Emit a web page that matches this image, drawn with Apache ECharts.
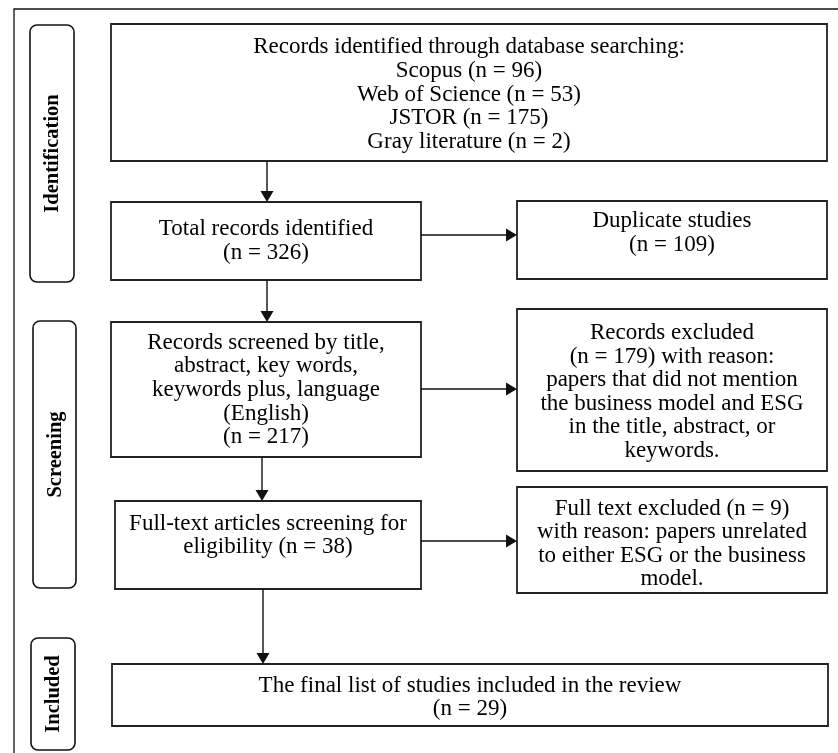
<!DOCTYPE html>
<html>
<head>
<meta charset="utf-8">
<script src="https://cdn.jsdelivr.net/npm/echarts@6/dist/echarts.min.js"></script>
<style>html,body{margin:0;padding:0;background:#fff}#c{width:838px;height:753px}</style>
</head>
<body>
<div id="c"></div>
<script>
// ---- data ----
const stageLabels = ['Identification', 'Screening', 'Included'];
const sourceNames = ['Scopus', 'Web of Science', 'JSTOR', 'Gray literature'];
const sourceCounts = [96, 53, 175, 2];
const totalIdentified = 326;
const duplicates = 109;
const screened = 217;
const excludedScreening = 179;
const fullText = 38;
const excludedFullText = 9;
const included = 29;

const boxTexts = [
  'Records identified through database searching:\n' +
    sourceNames.map((n, i) => n + ' (n = ' + sourceCounts[i] + ')').join('\n'),
  'Total records identified\n(n = ' + totalIdentified + ')',
  'Duplicate studies\n(n = ' + duplicates + ')',
  'Records screened by title,\nabstract, key words,\nkeywords plus, language\n(English)\n(n = ' + screened + ')',
  'Records excluded\n(n = ' + excludedScreening + ') with reason:\npapers that did not mention\nthe business model and ESG\nin the title, abstract, or\nkeywords.',
  'Full-text articles screening for\neligibility (n = ' + fullText + ')',
  'Full text excluded (n = ' + excludedFullText + ')\nwith reason: papers unrelated\nto either ESG or the business\nmodel.',
  'The final list of studies included in the review\n(n = ' + included + ')'
];

// ---- layout (pixels) ----
const boxLayout = [
  { x0: 111, y0: 24, x1: 827, y1: 161, ty: 94.5 },
  { x0: 111, y0: 202, x1: 421, y1: 280, ty: 241 },
  { x0: 517, y0: 201, x1: 827, y1: 279, ty: 233 },
  { x0: 111, y0: 322, x1: 421, y1: 457, ty: 390 },
  { x0: 517, y0: 309, x1: 827, y1: 471, ty: 392 },
  { x0: 115, y0: 501, x1: 421, y1: 589, ty: 535.5 },
  { x0: 517, y0: 487, x1: 827, y1: 593, ty: 544 },
  { x0: 112, y0: 664, x1: 828, y1: 726, ty: 697.5 }
];
const stageLayout = [
  { x0: 30, y0: 25, x1: 74, y1: 282 },
  { x0: 33, y0: 321, x1: 76, y1: 588 },
  { x0: 31, y0: 638, x1: 75, y1: 750 }
];
// arrows: [x1,y1,x2,y2], tip at x2,y2
const arrows = [
  [267, 161, 267, 202],
  [267, 280, 267, 322],
  [262, 457, 262, 501],
  [263, 589, 263, 664],
  [421, 235, 517, 235],
  [421, 389, 517, 389],
  [421, 541, 517, 541]
];

const FONT = '23px "Liberation Serif", "Times New Roman", serif';
const BOLD = 'bold 20.5px "Liberation Serif", "Times New Roman", serif';
const elements = [];

// outer frame
elements.push({ type: 'rect', shape: { x: 14, y: 9, width: 840, height: 760 },
  style: { fill: 'none', stroke: '#111', lineWidth: 1.3 } });

stageLayout.forEach((s, i) => {
  elements.push({ type: 'rect', shape: { x: s.x0, y: s.y0, width: s.x1 - s.x0, height: s.y1 - s.y0, r: 7 },
    style: { fill: '#fff', stroke: '#111', lineWidth: 1.6 } });
  elements.push({ type: 'text', x: (s.x0 + s.x1) / 2 + 1, y: (s.y0 + s.y1) / 2, rotation: Math.PI / 2,
    style: { text: stageLabels[i], font: BOLD, fill: '#000', align: 'center', verticalAlign: 'middle' } });
});

boxLayout.forEach((b, i) => {
  elements.push({ type: 'rect', shape: { x: b.x0, y: b.y0, width: b.x1 - b.x0, height: b.y1 - b.y0 },
    style: { fill: '#fff', stroke: '#222', lineWidth: 1.8 } });
  elements.push({ type: 'text', x: (b.x0 + b.x1) / 2, y: b.ty,
    style: { text: boxTexts[i], font: FONT, fill: '#000', align: 'center', verticalAlign: 'middle', lineHeight: 23.6 } });
});

arrows.forEach(a => {
  const [x1, y1, x2, y2] = a;
  const L = 11, W = 6.5;
  let pts, ex, ey;
  if (x1 === x2) { ex = x2; ey = y2 - L; pts = [[x2, y2], [x2 - W, y2 - L], [x2 + W, y2 - L]]; }
  else { ex = x2 - L; ey = y2; pts = [[x2, y2], [x2 - L, y2 - W], [x2 - L, y2 + W]]; }
  elements.push({ type: 'line', shape: { x1: x1, y1: y1, x2: ex, y2: ey }, style: { stroke: '#111', lineWidth: 1.4 } });
  elements.push({ type: 'polygon', shape: { points: pts }, style: { fill: '#111' } });
});

const chart = echarts.init(document.getElementById('c'), null, { renderer: 'canvas' });
chart.setOption({ animation: false, backgroundColor: '#fff', graphic: { elements: elements } });
</script>
</body>
</html>
